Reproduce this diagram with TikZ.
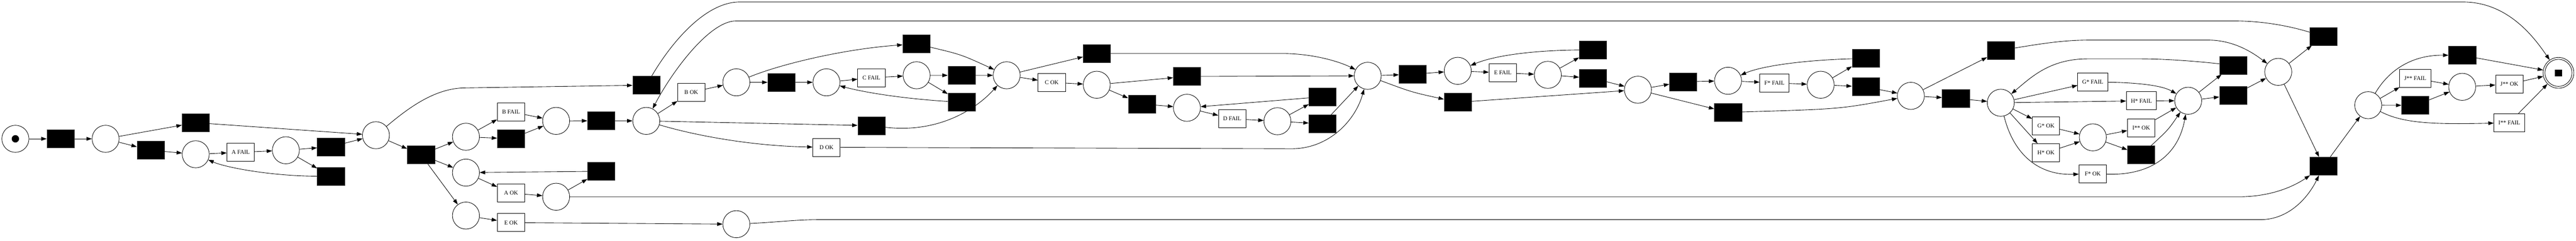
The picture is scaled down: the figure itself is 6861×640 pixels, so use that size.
\documentclass[tikz,border=0pt]{standalone}
\usepackage{fontspec}
\setmainfont{Liberation Serif}
\usetikzlibrary{arrows.meta}
\begin{document}
\begin{tikzpicture}[x=1pt,y=-1pt,
  pl/.style={circle,draw,line width=1.2pt,minimum size=72pt,inner sep=0pt},
  tb/.style={rectangle,fill=black,draw=black!75,line width=0.8pt,minimum width=73pt,minimum height=48pt,inner sep=0pt},
  tl/.style={rectangle,draw,fill=white,line width=1.2pt,minimum width=73pt,minimum height=48pt,inner xsep=12pt,inner ysep=0pt,font=\fontsize{15.5}{18}\selectfont},
  arc/.style={-{Triangle[length=14.5pt,width=10pt]},line width=1.2pt}]
\fill[white] (0,0) rectangle (6861,640);
\useasboundingbox (0,0) rectangle (6861,640);
% places
\node[pl] (P0) at (41,369.1) {};
\node[pl] (P1) at (281.3,369.1) {};
\node[pl] (P2) at (521.3,410.2) {};
\node[pl] (P3) at (761.4,399.6) {};
\node[pl] (P4) at (1001.3,359.6) {};
\node[pl] (P5) at (1241,363.6) {};
\node[pl] (P6) at (1241,459) {};
\node[pl] (P7) at (1241,573.2) {};
\node[pl] (P8) at (1481.2,321.5) {};
\node[pl] (P9) at (1481.2,523.2) {};
\node[pl] (P10) at (1721.3,321.5) {};
\node[pl] (P12) at (1961.2,218.9) {};
\node[pl] (P13) at (2201.2,218.9) {};
\node[pl] (P14) at (1961.2,596.1) {};
\node[pl] (P15) at (2441.3,200.2) {};
\node[pl] (P16) at (2681.2,200.2) {};
\node[pl] (P17) at (2921.1,225.4) {};
\node[pl] (P18) at (3161.3,286.6) {};
\node[pl] (P19) at (3402.3,322.4) {};
\node[pl] (P20) at (3642.8,201.6) {};
\node[pl] (P21) at (3882.6,188.4) {};
\node[pl] (P22) at (4122.5,199) {};
\node[pl] (P23) at (4362.4,238.6) {};
\node[pl] (P24) at (4602.5,214.8) {};
\node[pl] (P25) at (4849.2,225.4) {};
\node[pl] (P26) at (5089.4,254.9) {};
\node[pl] (P27) at (5328.9,273.2) {};
\node[pl] (P28) at (5574.1,365.2) {};
\node[pl] (P30) at (5828,267.9) {};
\node[pl] (P29) at (6067.9,191.1) {};
\node[pl] (P31) at (6307.6,279.7) {};
\node[pl] (P32) at (6557.9,230.9) {};
\node[circle,draw,line width=1.2pt,minimum size=82pt,inner sep=0pt] (Fin) at (6814.2,193.7) {};
\draw[line width=1.2pt] (Fin.center) circle (36pt);
\fill ([xshift=-10pt,yshift=-9pt]Fin.center) rectangle ([xshift=10pt,yshift=9pt]Fin.center);
\fill (P0.center) circle (9.8pt);
% transitions
\node[tb] (T1) at (161.5,369.1) {};
\node[tb] (T2) at (521.3,326.2) {};
\node[tb] (T3) at (401.4,399.6) {};
\node[tl] (AFAIL) at (641.1,404.9) {A FAIL};
\node[tb] (T4) at (881.4,390.2) {};
\node[tb] (T5) at (881.4,468.7) {};
\node[tb] (T6) at (1121.4,411.6) {};
\node[tb] (T10) at (1721.5,226.4) {};
\node[tl] (BFAIL) at (1361.1,297.2) {B FAIL};
\node[tb] (T7) at (1361.1,369.1) {};
\node[tl] (AOK) at (1361.1,513.6) {A OK};
\node[tl] (EOK) at (1361.1,591.9) {E OK};
\node[tb] (T8) at (1601.2,321.1) {};
\node[tb] (T9) at (1601.2,455.3) {};
\node[tl] (BOK) at (1841.2,245.3) {B OK};
\node[tb] (T11) at (2081.3,218.9) {};
\node[tl] (CFAIL) at (2321,206.9) {C FAIL};
\node[tb] (T12) at (2321,334.1) {};
\node[tl] (DOK) at (2201.3,391.7) {D OK};
\node[tb] (T13) at (2440.9,116.7) {};
\node[tb] (T14) at (2561.3,200.4) {};
\node[tb] (T15) at (2561.3,272) {};
\node[tl] (COK) at (2801.3,219.1) {C OK};
\node[tb] (T16) at (2921.3,142.3) {};
\node[tb] (T17) at (3161.4,203.3) {};
\node[tb] (T18) at (3041.4,276.4) {};
\node[tl] (DFAIL) at (3281.9,315.9) {D FAIL};
\node[tb] (T19) at (3522.6,257.3) {};
\node[tb] (T20) at (3522.6,329.3) {};
\node[tb] (T21) at (3762.7,197.6) {};
\node[tb] (T22) at (3882.7,272) {};
\node[tl] (EFAIL) at (4002.7,193.7) {E FAIL};
\node[tb] (T23) at (4242.7,132.5) {};
\node[tb] (T24) at (4242.7,208.1) {};
\node[tb] (T25) at (4482.9,217.5) {};
\node[tb] (T26) at (4602.7,298.8) {};
\node[tl] (FsFAIL) at (4726,220.3) {F* FAIL};
\node[tb] (T27) at (4969.3,155.3) {};
\node[tb] (T28) at (4969.3,230.9) {};
\node[tb] (T29) at (5329.3,133.7) {};
\node[tb] (T30) at (5209.2,261.4) {};
\node[tl] (GsFAIL) at (5573.9,217.9) {G* FAIL};
\node[tl] (HsFAIL) at (5703.5,268.1) {H* FAIL};
\node[tl] (GsOK) at (5449.2,334.6) {G* OK};
\node[tl] (HsOK) at (5449.2,406.1) {H* OK};
\node[tl] (FsOK) at (5573.9,461.8) {F* OK};
\node[tl] (IssOK) at (5703,339.8) {I** OK};
\node[tb] (T31) at (5703,411.6) {};
\node[tb] (T33) at (5947.8,173.6) {};
\node[tb] (T34) at (5947.8,253.3) {};
\node[tb] (T32) at (6188.3,96.7) {};
\node[tb] (T35) at (6188.3,441.9) {};
\node[tb] (T36) at (6558.1,147.2) {};
\node[tl] (JssFAIL) at (6432.8,208.1) {J** FAIL};
\node[tb] (T37) at (6433,280.1) {};
\node[tl] (JssOK) at (6683.3,224) {J** OK};
\node[tl] (IssFAIL) at (6683.3,326.4) {I** FAIL};
% straight arcs
\foreach \a/\b in {P0/T1,T1/P1,P1/T2,P1/T3,T3/P2,P2/AFAIL,AFAIL/P3,P3/T4,P3/T5,T4/P4,T2/P4,P4/T6,
  T6/P5,T6/P6,T6/P7,P5/BFAIL,P5/T7,BFAIL/P8,T7/P8,P8/T8,T8/P10,P6/AOK,AOK/P9,P9/T9,T9/P6,P7/EOK,EOK/P14,
  P10/BOK,BOK/P12,P12/T11,T11/P13,P13/CFAIL,P10/T12,CFAIL/P15,P15/T14,P15/T15,T14/P16,P16/COK,P16/T16,
  COK/P17,P17/T17,P17/T18,T18/P18,P18/DFAIL,DFAIL/P19,P19/T19,P19/T20,T19/P18,T20/P20,T17/P20,P20/T21,
  T21/P21,P21/EFAIL,EFAIL/P22,P22/T23,P22/T24,T24/P23,T22/P23,P23/T25,T25/P24,P23/T26,P24/FsFAIL,
  FsFAIL/P25,P25/T27,P25/T28,T28/P26,P26/T29,P26/T30,T30/P27,P27/GsFAIL,P27/HsFAIL,P27/GsOK,P27/HsOK,
  GsOK/P28,HsOK/P28,P28/IssOK,P28/T31,HsFAIL/P30,IssOK/P30,P30/T33,P30/T34,T34/P29,P29/T32,P29/T35,
  T35/P31,P31/JssFAIL,P31/T37,JssFAIL/P32,T37/P32,P32/JssOK,JssOK/Fin,T36/Fin,IssFAIL/Fin}
  \draw[arc] (\a) -- (\b);
% curved arcs
\draw[arc] (T5) .. controls (720,468) and (600,445) .. (P2);
\draw[arc] (P4) .. controls (1090,285) and (1160,233.7) .. (1240,233.7) -- (T10);
\draw[arc] (P12) .. controls (2080,170) and (2250,130) .. (T13);
\draw[arc] (P10) .. controls (1850,360) and (2000,388) .. (DOK);
\draw[arc] (DOK) -- (3440,395.5) .. controls (3540,395.5) and (3610,320) .. (P20);
\draw[arc] (T12) .. controls (2500,355) and (2600,290) .. (P16);
\draw[arc] (T13) .. controls (2560,145) .. (P16);
\draw[arc] (T15) .. controls (2400,262) and (2300,245) .. (P13);
\draw[arc] (T16) -- (3414,142.3) .. controls (3500,142.3) and (3570,165) .. (P20);
\draw[arc] (P20) .. controls (3760,245) .. (T22);
\draw[arc] (T23) .. controls (4080,134) and (3980,148) .. (P21);
\draw[arc] (T26) .. controls (4900,290) .. (P26);
\draw[arc] (T27) .. controls (4800,160) and (4690,176) .. (P24);
\draw[arc] (T29) .. controls (5450,114) and (5500,106.5) .. (5570,106.5) -- (5880,106.5) .. controls (5950,106.5) and (6000,140) .. (P29);
\draw[arc] (T33) .. controls (5850,163) and (5770,156.5) .. (5700,156.5) -- (5560,156.5) .. controls (5460,156.5) and (5410,205) .. (P27);
\draw[arc] (P27) .. controls (5360,400) and (5420,467) .. (FsOK);
\draw[arc] (GsFAIL) .. controls (5700,220) and (5760,228) .. (P30);
\draw[arc] (T31) .. controls (5775,345) .. (P30);
\draw[arc] (FsOK) .. controls (5720,467) and (5800,420) .. (P30);
\draw[arc] (P9) -- (5963,523.2) .. controls (6050,523.2) and (6110,495) .. (T35);
\draw[arc] (P14) .. controls (2080,590) and (2120,584.1) .. (2180,584.1) -- (6020,584.1) .. controls (6100,584.1) and (6150,520) .. (T35);
\draw[arc] (P31) .. controls (6360,190) and (6420,146) .. (T36);
\draw[arc] (P31) .. controls (6400,328) and (6480,331) .. (IssFAIL);
\draw[arc] (T10) .. controls (1790,110) and (1880,5.3) .. (1970,5.3) -- (6560,5.3) .. controls (6680,5.3) and (6750,100) .. (Fin);
\draw[arc] (T32) .. controls (6100,70) and (6030,55.7) .. (5950,55.7) -- (1960,55.7) .. controls (1890,55.7) and (1790,190) .. (P10);
\end{tikzpicture}
\end{document}
